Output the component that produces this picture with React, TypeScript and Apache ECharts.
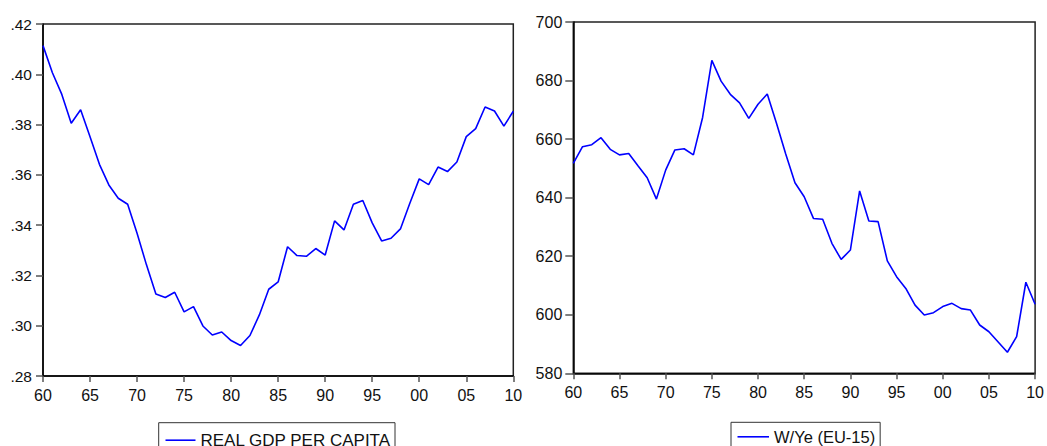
import React, { useEffect, useRef } from "react";
import * as echarts from "echarts";

const years: number[] = [
  1960, 1961, 1962, 1963, 1964, 1965, 1966, 1967, 1968, 1969,
  1970, 1971, 1972, 1973, 1974, 1975, 1976, 1977, 1978, 1979,
  1980, 1981, 1982, 1983, 1984, 1985, 1986, 1987, 1988, 1989,
  1990, 1991, 1992, 1993, 1994, 1995, 1996, 1997, 1998, 1999,
  2000, 2001, 2002, 2003, 2004, 2005, 2006, 2007, 2008, 2009, 2010,
];

const realGdpPerCapita: number[] = [
  0.4114, 0.4006, 0.392, 0.3805, 0.3859, 0.3752, 0.3642, 0.356, 0.3507, 0.3483,
  0.3368, 0.3242, 0.3126, 0.3112, 0.3133, 0.3055, 0.3076, 0.2999, 0.2963, 0.2975,
  0.2941, 0.2921, 0.2961, 0.3043, 0.3145, 0.3174, 0.3314, 0.3279, 0.3276, 0.3307,
  0.3281, 0.3417, 0.3381, 0.3483, 0.3498, 0.3409, 0.3337, 0.3348, 0.3385, 0.3487,
  0.3584, 0.3561, 0.3631, 0.3613, 0.3651, 0.3752, 0.3784, 0.387, 0.3854, 0.3794, 0.3853,
];

const wYe: number[] = [
  651.7, 657.4, 658.1, 660.5, 656.5, 654.6, 655.1, 650.9, 646.8, 639.5,
  649.4, 656.3, 656.7, 654.6, 667.4, 686.9, 679.8, 675.3, 672.4, 667.1,
  671.9, 675.4, 665.4, 654.9, 645.1, 640.3, 632.9, 632.6, 624.4, 618.9,
  622.1, 642.3, 632.0, 631.8, 618.4, 613.0, 609.0, 603.3, 599.9, 600.7,
  602.8, 603.9, 602.1, 601.6, 596.5, 594.2, 590.7, 587.2, 592.5, 611.1, 603.6,
];

const leftName = "REAL GDP PER CAPITA";
const rightName = "W/Ye (EU-15)";

const FONT = "'Liberation Sans', Arial, sans-serif";

export default function App() {
  const ref = useRef<HTMLDivElement>(null);

  useEffect(() => {
    if (!ref.current) return;
    const chart = echarts.init(ref.current, undefined, { renderer: "svg" });

    const xAxisBase = (gridIndex: number) => ({
      type: "value" as const,
      gridIndex,
      min: 1960,
      max: 2010,
      interval: 5,
      axisLine: { show: true, onZero: false, lineStyle: { color: "#000", width: 1.5 } },
      axisTick: { show: true, inside: false, length: 6, lineStyle: { color: "#555", width: 1.5 } },
      axisLabel: {
        color: "#111",
        fontSize: 16,
        fontFamily: FONT,
        margin: 11,
        formatter: (v: number) => String(v % 100).padStart(2, "0"),
      },
      splitLine: { show: false },
    });

    const left = 43;
    const top1 = 24;
    const w1 = 470.3;
    const h1 = 352;
    const left2 = 573.3;
    const top2 = 22;
    const w2 = 465.4;
    const h2 = 351.3;

    chart.setOption({
      animation: false,
      backgroundColor: "#fff",
      grid: [
        { left, top: top1, width: w1, height: h1, show: true, borderColor: "#222", borderWidth: 1.5, backgroundColor: "transparent" },
        { left: left2, top: top2, width: w2, height: h2, show: true, borderColor: "#222", borderWidth: 1.5, backgroundColor: "transparent" },
      ],
      xAxis: [xAxisBase(0), xAxisBase(1)],
      yAxis: [
        {
          type: "value",
          gridIndex: 0,
          min: 0.28,
          max: 0.42,
          interval: 0.02,
          axisLine: { show: true, onZero: false, lineStyle: { color: "#000", width: 1.5 } },
          axisTick: { show: true, inside: false, length: 7, lineStyle: { color: "#555", width: 1.5 } },
          axisLabel: {
            color: "#111",
            fontSize: 15.5,
            fontFamily: FONT,
            margin: 11,
            formatter: (v: number) => "." + v.toFixed(2).split(".")[1],
          },
          splitLine: { show: false },
        },
        {
          type: "value",
          gridIndex: 1,
          min: 580,
          max: 700,
          interval: 20,
          axisLine: { show: true, onZero: false, lineStyle: { color: "#000", width: 1.5 } },
          axisTick: { show: true, inside: false, length: 8, lineStyle: { color: "#555", width: 1.5 } },
          axisLabel: {
            color: "#111",
            fontSize: 16,
            fontFamily: FONT,
            margin: 11,
          },
          splitLine: { show: false },
        },
      ],
      legend: [
        {
          data: [leftName],
          left: 158.7,
          top: 422.7,
          orient: "horizontal",
          itemWidth: 30,
          itemHeight: 14,
          padding: [9, 4, 8, 6],
          borderColor: "#333",
          borderWidth: 1,
          borderRadius: 0,
          itemStyle: { opacity: 0 },
          lineStyle: { color: "#0000ff", width: 1.6 },
          textStyle: { fontSize: 17, lineHeight: 14, fontFamily: FONT, color: "#111" },
        },
        {
          data: [rightName],
          left: 731,
          top: 422.3,
          orient: "horizontal",
          itemWidth: 31.5,
          itemHeight: 14,
          padding: [6, 5, 8, 5.7],
          borderColor: "#333",
          borderWidth: 1,
          borderRadius: 0,
          itemStyle: { opacity: 0 },
          lineStyle: { color: "#0000ff", width: 1.6 },
          textStyle: { fontSize: 16.5, lineHeight: 14, fontFamily: FONT, color: "#111" },
        },
      ],
      series: [
        {
          name: leftName,
          type: "line",
          xAxisIndex: 0,
          yAxisIndex: 0,
          symbol: "none",
          lineStyle: { color: "#0000ff", width: 1.6 },
          itemStyle: { color: "#0000ff" },
          data: years.map((y, i) => [y, realGdpPerCapita[i]]),
        },
        {
          name: rightName,
          type: "line",
          xAxisIndex: 1,
          yAxisIndex: 1,
          symbol: "none",
          lineStyle: { color: "#0000ff", width: 1.6 },
          itemStyle: { color: "#0000ff" },
          data: years.map((y, i) => [y, wYe[i]]),
        },
      ],
    });

    return () => chart.dispose();
  }, []);

  return (
    <div
      ref={ref}
      style={{ position: "absolute", left: 0, top: 0, width: 1047, height: 446 }}
    />
  );
}
